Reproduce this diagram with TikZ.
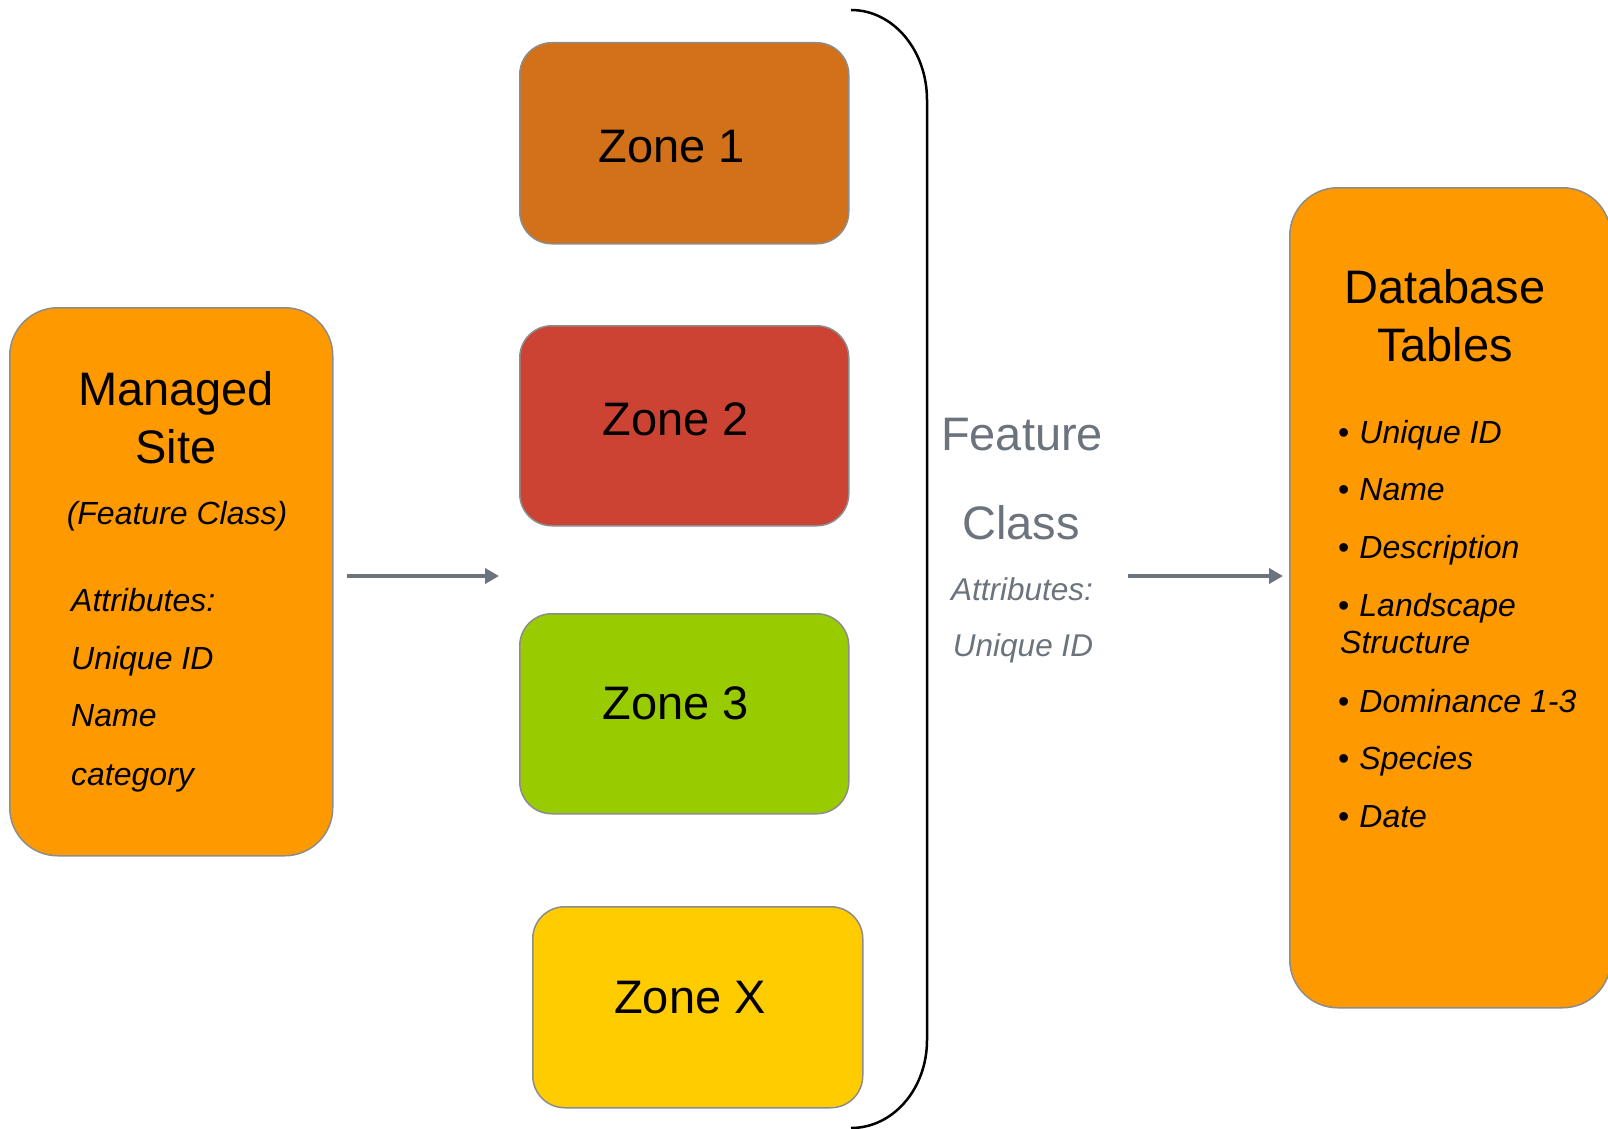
\documentclass[tikz,border=0pt]{standalone}
\usepackage{fontspec}
\setmainfont{Liberation Sans}
\usetikzlibrary{arrows.meta}
\definecolor{orng}{HTML}{FF9900}
\definecolor{zoneone}{HTML}{D27119}
\definecolor{zonetwo}{HTML}{CC4334}
\definecolor{zonethree}{HTML}{99CC00}
\definecolor{zonex}{HTML}{FFCC00}
\definecolor{boxline}{HTML}{8C8C8C}
\definecolor{slate}{HTML}{6B737C}
\begin{document}
\begin{tikzpicture}[x=1pt,y=-1pt,
  box/.style={draw=boxline, line width=1.5pt, rounded corners=#1, inner sep=0pt, anchor=north west},
  txt/.style={inner sep=0pt, anchor=base},
  ltxt/.style={inner sep=0pt, anchor=base west},
  title/.style={txt, font=\fontsize{47}{47}\selectfont},
  zonelbl/.style={txt, font=\fontsize{47}{47}\selectfont},
  listl/.style={ltxt, font=\fontsize{32}{32}\selectfont\itshape},
  bul/.style={ltxt, font=\fontsize{32}{32}\selectfont\itshape},
  fcbig/.style={txt, text=slate, font=\fontsize{47}{47}\selectfont},
  fcsmall/.style={txt, text=slate, font=\fontsize{31.5}{31.5}\selectfont\itshape},
  arr/.style={draw=slate, line width=4.5pt, -{Triangle[length=14pt,width=15pt]}},
  bracket/.style={draw=black, line width=2.5pt}
]
\useasboundingbox (0,0) rectangle (1608,1129);

% boxes
\node[box=48pt, fill=orng, minimum width=323pt, minimum height=548pt] (ms) at (9,307) {};
\node[box=32pt, fill=zoneone, minimum width=329pt, minimum height=201pt] (z1) at (519,42) {};
\node[box=32pt, fill=zonetwo, minimum width=329pt, minimum height=200pt] (z2) at (519,325) {};
\node[box=32pt, fill=zonethree, minimum width=329pt, minimum height=200pt] (z3) at (519,613) {};
\node[box=32pt, fill=zonex, minimum width=330pt, minimum height=201pt] (zx) at (532,906) {};
\node[box=48pt, fill=orng, minimum width=321pt, minimum height=820pt] (db) at (1289,187) {};

% managed site text
\node[title] (msT1) at (176,405) {Managed};
\node[title] (msT2) at (176,463) {Site};
\node[txt, font=\fontsize{32}{32}\selectfont\itshape] (msFC) at (177,524) {(Feature Class)};
\node[listl] (msA) at (71,611) {Attributes:};
\node[listl] (msU) at (71,669) {Unique ID};
\node[listl] (msN) at (71,726) {Name};
\node[listl] (msC) at (71,785) {category};

% zone labels
\node[zonelbl] (z1T) at (672,162) {Zone 1};
\node[zonelbl] (z2T) at (676,435) {Zone 2};
\node[zonelbl] (z3T) at (676,719) {Zone 3};
\node[zonelbl] (zxT) at (690,1013) {Zone X};

% bracket
\coordinate (br1) at (851,10);
\coordinate (br2) at (927,100);
\coordinate (br3) at (927,1040);
\coordinate (br4) at (851,1128);
\draw[bracket] (br1) .. controls (893,10) and (927,50) .. (br2) -- (br3) .. controls (927,1089) and (893,1128) .. (br4);

% feature class text
\node[fcbig] (fcF) at (1022,450) {Feature};
\node[fcbig] (fcC) at (1021,539) {Class};
\node[fcsmall] (fcA) at (1022,600) {Attributes:};
\node[fcsmall] (fcU) at (1023,656) {Unique ID};

% database text
\node[title] (dbT1) at (1445,303) {Database};
\node[title] (dbT2) at (1445,361) {Tables};
\node[bul] (b1) at (1338,443) {\upshape•\hspace{10pt}\itshape Unique ID};
\node[bul] (b2) at (1338,500) {\upshape•\hspace{10pt}\itshape Name};
\node[bul] (b3) at (1338,558) {\upshape•\hspace{10pt}\itshape Description};
\node[bul] (b4) at (1338,616) {\upshape•\hspace{10pt}\itshape Landscape};
\node[bul] (b4b) at (1340,653) {Structure};
\node[bul] (b5) at (1338,712) {\upshape•\hspace{10pt}\itshape Dominance 1-3};
\node[bul] (b6) at (1338,769) {\upshape•\hspace{10pt}\itshape Species};
\node[bul] (b7) at (1338,827) {\upshape•\hspace{10pt}\itshape Date};

% arrows
\coordinate (a1s) at (347,576);
\coordinate (a1e) at (499,576);
\coordinate (a2s) at (1128,576);
\coordinate (a2e) at (1283,576);
\draw[arr] (a1s) -- (a1e);
\draw[arr] (a2s) -- (a2e);
\end{tikzpicture}
\end{document}
